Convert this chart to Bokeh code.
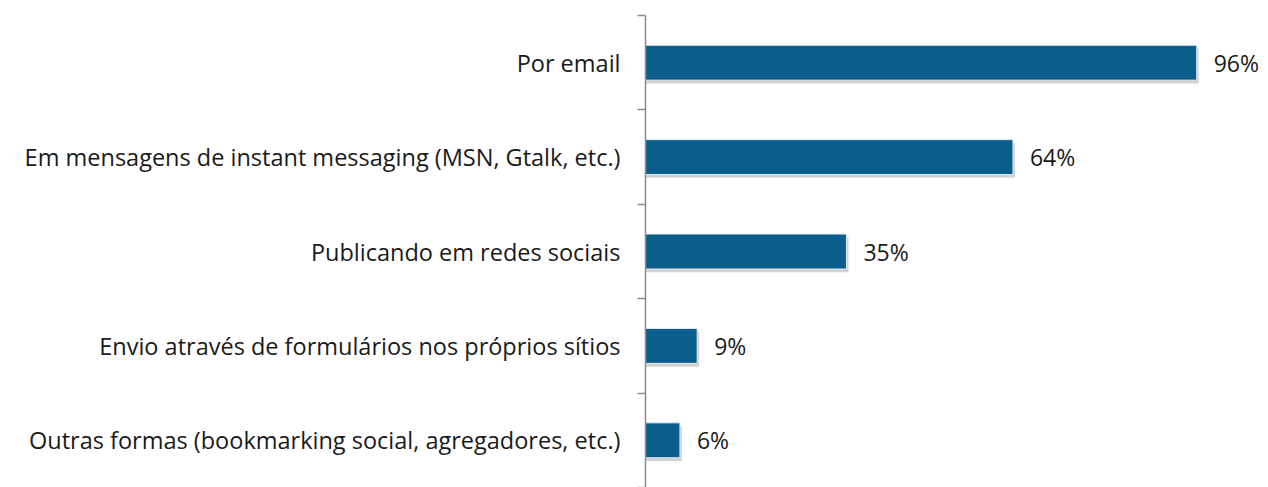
from bokeh.plotting import figure
from bokeh.models import ColumnDataSource, Range1d, FixedTicker, LabelSet
from bokeh.core.properties import value
from bokeh.embed import file_html
from bokeh.resources import INLINE

categories = [
    "Por email",
    "Em mensagens de instant messaging (MSN, Gtalk, etc.)",
    "Publicando em redes sociais",
    "Envio através de formulários nos próprios sítios",
    "Outras formas (bookmarking social, agregadores, etc.)",
]
values = [96, 64, 35, 9, 6]
value_labels = ["96%", "64%", "35%", "9%", "6%"]

n = len(categories)
ypos = [n - 1 - i for i in range(n)]
src = ColumnDataSource(dict(
    y=ypos,
    ys=[y - 0.035 for y in ypos],
    v=values,
    vs=[v + 0.35 for v in values],
    lab=value_labels,
))

FONT = "Open Sans"

p = figure(width=1268, height=487, output_backend="svg", toolbar_location=None,
           x_range=Range1d(0, 108.5), y_range=Range1d(-0.5, n - 0.5),
           min_border_left=645, min_border_right=0, min_border_top=15, min_border_bottom=0)
p.outline_line_color = None
p.xgrid.visible = False
p.ygrid.visible = False
p.xaxis.visible = False
p.background_fill_color = "white"
p.border_fill_color = "white"

# shadow
p.hbar(y="ys", right="vs", left=0, height=0.37, source=src,
       fill_color="#7f7f7f", fill_alpha=0.35, line_color=None)
p.hbar(y="y", right="v", left=0, height=0.37, source=src,
       fill_color="#0B5E8C", line_color="#e3ecf2", line_width=1)

labels = LabelSet(x="v", y="y", text="lab", source=src, x_offset=17, y_offset=0,
                  text_baseline="middle", text_font=value(FONT), text_font_size="23px",
                  text_color="#1a1a1a")
p.add_layout(labels)

yax = p.yaxis[0]
yax.ticker = FixedTicker(ticks=ypos, minor_ticks=[i - 0.5 for i in range(n + 1)])
yax.major_label_overrides = {y: categories[i] for i, y in enumerate(ypos)}
yax.major_tick_out = 0
yax.major_tick_in = 0
yax.minor_tick_out = 8
yax.minor_tick_in = 0
yax.minor_tick_line_color = "#8c8c8c"
yax.minor_tick_line_width = 1.5
yax.axis_line_color = "#8c8c8c"
yax.axis_line_width = 1.5
yax.major_label_standoff = 17
yax.major_label_text_font = FONT
yax.major_label_text_font_size = "23.5px"
yax.major_label_text_color = "#1a1a1a"

open("out.html", "w").write(file_html(p, INLINE))
